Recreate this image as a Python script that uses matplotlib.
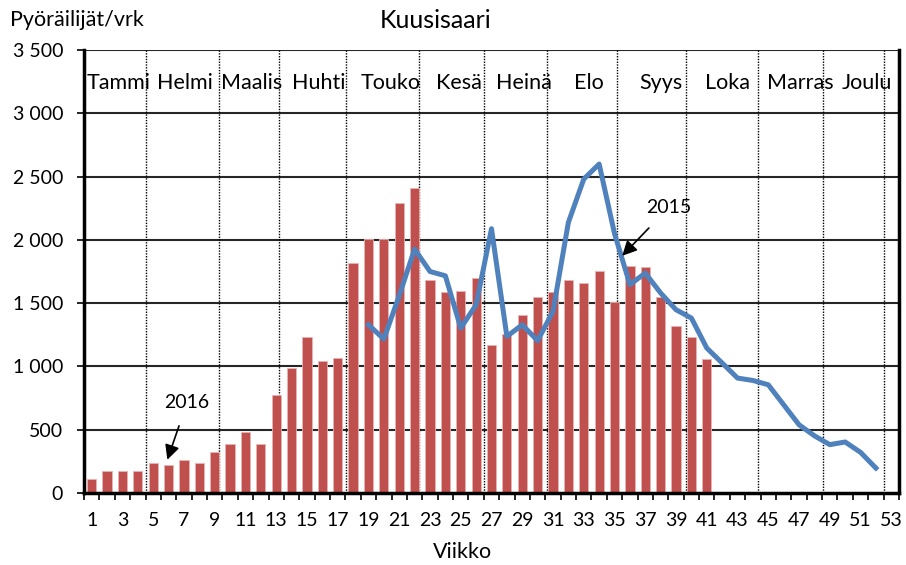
import numpy as np
import matplotlib
matplotlib.use("Agg")
import matplotlib.pyplot as plt

plt.rcParams['font.family'] = ['Lato', 'DejaVu Sans']

# Data (weekly cyclists per day, Kuusisaari)
weeks = np.arange(1, 54)
weeks_2016 = np.arange(1, 42)
counts_2016 = [110, 175, 175, 175, 240, 225, 263, 237, 324, 384,
               484, 384, 776, 985, 1229, 1045, 1069, 1817, 2003, 2003,
               2295, 2406, 1682, 1585, 1596, 1697, 1169, 1256, 1403, 1551,
               1588, 1682, 1659, 1756, 1511, 1793, 1782, 1551, 1316, 1230,
               1058]
weeks_2015 = np.arange(19, 53)
counts_2015 = [1329, 1216, 1560, 1927, 1750, 1716, 1303, 1487, 2088, 1237,
               1329, 1203, 1435, 2138, 2480, 2599, 2050, 1646, 1738, 1580,
               1448, 1382, 1145, 1027, 908, 889, 855, 697, 539, 452,
               382, 403, 321, 197]

months = ['Tammi', 'Helmi', 'Maalis', 'Huhti', 'Touko', 'Kesä',
          'Heinä', 'Elo', 'Syys', 'Loka', 'Marras', 'Joulu']
month_label_x = [2.78, 7.08, 11.4, 15.75, 20.42, 24.85,
                 29.08, 33.31, 38.0, 42.36, 47.05, 51.4]
month_bounds = [4.54, 9.26, 13.2, 17.56, 22.31, 26.54,
                30.58, 35.14, 39.63, 44.36, 48.53, 52.54]

yticks = np.arange(0, 3501, 500)
ytick_labels = ['0', '500', '1 000', '1 500', '2 000', '2 500', '3 000', '3 500']

fig = plt.figure(figsize=(9.06, 5.65), dpi=100)
ax = fig.add_axes([84/906, 72/565, 815/906, 443/565])

# grid
for y in yticks[1:]:
    ax.axhline(y, color='#262626', lw=1.5, zorder=0)

# month dividers
for b in month_bounds:
    ax.axvline(b, color='black', lw=1.0, ls=(0, (1, 1)), zorder=1)

ax.bar(weeks_2016, counts_2016, width=0.6, color='#C0504D',
       edgecolor='#E8B4B3', linewidth=0.6, zorder=2)
ax.plot(weeks_2015, counts_2015, color='#4F81BD', lw=3.6, zorder=3,
        solid_joinstyle='round')

for m, x in zip(months, month_label_x):
    ax.text(x, 3240, m, ha='center', va='center', fontsize=15.5)

ax.annotate('2016', xy=(5.92, 263), xytext=(7.2, 713), ha='center', va='center',
            fontsize=14,
            arrowprops=dict(arrowstyle='-|>', color='black', lw=1.2,
                            mutation_scale=22, shrinkA=9, shrinkB=0))
ax.annotate('2015', xy=(35.5, 1874), xytext=(38.5, 2254), ha='center', va='center',
            fontsize=14,
            arrowprops=dict(arrowstyle='-|>', color='black', lw=1.2,
                            mutation_scale=22, shrinkA=9, shrinkB=0))

ax.set_xlim(0.5, 53.5)
ax.set_ylim(0, 3500)
ax.set_yticks(yticks)
ax.set_yticklabels(ytick_labels, fontsize=14)
ax.set_xticks(weeks[::2])
ax.set_xticklabels([str(w) for w in weeks[::2]], fontsize=14)
ax.set_xticks(np.arange(0.5, 54, 1), minor=True)
ax.tick_params(axis='x', which='major', length=0, pad=14)
ax.tick_params(axis='x', which='minor', length=5, width=1.2, direction='out')
ax.tick_params(axis='y', length=5, width=1.2, direction='out', pad=10)

ax.spines['top'].set_visible(False)
for s in ['left', 'bottom', 'right']:
    ax.spines[s].set_linewidth(2.5)
    ax.spines[s].set_color('black')

fig.text(436/906, 1 - 20/565, 'Kuusisaari', ha='center', va='center', fontsize=18)
fig.text(10/906, 1 - 20/565, 'Pyöräilijät/vrk', ha='left', va='center', fontsize=15.5)
fig.text(463/906, 1 - 552/565, 'Viikko', ha='center', va='center', fontsize=15.5)

fig.savefig('out.png', dpi=100)
